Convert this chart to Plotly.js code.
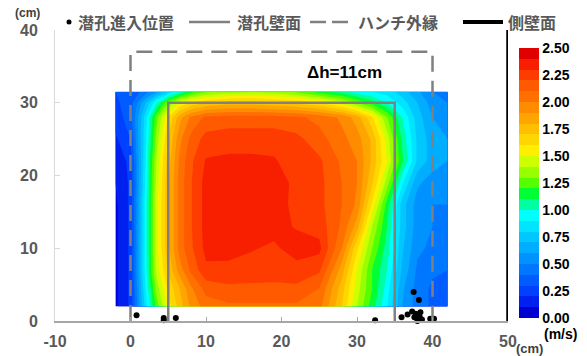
<!DOCTYPE html>
<html>
<head>
<meta charset="utf-8">
<script src="https://cdn.plot.ly/plotly-3.0.1.min.js"></script>
<style>html,body{margin:0;padding:0;background:#fff}#chart{width:587px;height:356px}</style>
</head>
<body>
<div id="chart"></div>
<script>
// grid positions (cm)
const gridX = [-2, 0, 2, 3.5, 5, 6.5, 8, 10, 13, 16, 19, 22, 25, 28, 30, 32, 34, 36, 38, 40, 42];
const gridY = [2, 4.5, 7, 10, 13, 16, 19, 22, 25, 28, 30, 31.5];
// flow speed (m/s), one row per gridY
const speedRows = [
  [0.08,0.22,0.85,1.25,1.55,1.75,1.92,2.05,2.08,2.08,2.08,2.08,2.04,1.70,1.40,1.15,0.90,0.60,0.45,0.38,0.35],
  [0.08,0.22,0.90,1.35,1.62,1.80,1.98,2.14,2.18,2.18,2.18,2.18,2.10,1.75,1.45,1.20,0.95,0.62,0.46,0.38,0.35],
  [0.08,0.22,0.95,1.45,1.72,1.95,2.12,2.28,2.27,2.25,2.24,2.26,2.22,1.85,1.50,1.20,1.00,0.68,0.48,0.42,0.40],
  [0.08,0.22,0.95,1.48,1.78,2.04,2.18,2.33,2.34,2.31,2.28,2.35,2.33,2.00,1.62,1.30,1.05,0.72,0.52,0.48,0.45],
  [0.08,0.22,0.95,1.48,1.78,2.04,2.19,2.34,2.37,2.36,2.34,2.29,2.26,2.08,1.85,1.40,1.10,0.75,0.55,0.50,0.45],
  [0.08,0.22,0.95,1.48,1.78,2.04,2.19,2.34,2.38,2.38,2.35,2.27,2.23,2.10,1.98,1.58,1.15,0.75,0.55,0.50,0.50],
  [0.10,0.22,0.92,1.45,1.78,2.04,2.19,2.34,2.38,2.38,2.36,2.27,2.23,2.10,2.00,1.72,1.35,0.92,0.62,0.55,0.55],
  [0.10,0.24,0.90,1.42,1.75,2.02,2.18,2.31,2.32,2.32,2.31,2.25,2.22,2.08,2.00,1.78,1.50,1.12,0.78,0.65,0.60],
  [0.18,0.30,0.88,1.35,1.70,1.97,2.13,2.24,2.26,2.26,2.26,2.23,2.14,2.03,1.95,1.78,1.45,1.08,0.78,0.65,0.60],
  [0.25,0.35,0.85,1.28,1.60,1.86,2.02,2.12,2.14,2.14,2.14,2.12,2.07,1.98,1.85,1.62,1.30,1.00,0.75,0.60,0.55],
  [0.28,0.35,0.70,1.00,1.30,1.50,1.62,1.70,1.75,1.75,1.72,1.68,1.60,1.45,1.30,1.15,1.00,0.85,0.70,0.55,0.50],
  [0.30,0.32,0.45,0.60,0.80,1.00,1.15,1.28,1.35,1.38,1.35,1.28,1.15,1.05,0.95,0.90,0.85,0.75,0.62,0.50,0.42]
];
// band colours, 0.0-0.1 ... 2.4-2.5
const bandColors = ['#0000d0','#0020f0','#0040ff','#005cff','#0077ff','#0092ff','#00adff','#00c8ff','#00e4ff','#00ffff',
  '#00ffa0','#00ff33','#55ff00','#99ff00','#ccff00','#ffee00','#ffd700','#ffbf00','#ffa500','#ff8c00',
  '#ff7000','#ff5a00','#ff3c00','#f81e00','#e00000'];
// colour-bar ticks
const cbTicks = [0, 0.25, 0.5, 0.75, 1, 1.25, 1.5, 1.75, 2, 2.25, 2.5];
const xTicks = [-10, 0, 10, 20, 30, 40, 50];
const yTicks = [0, 10, 20, 30, 40];
// hole entry positions
const holeX = [0.8, 4.4, 4.4, 6.0, 32.4, 35.9, 36.7, 37.3, 37.8, 38.3, 38.6, 38.0, 37.6, 38.4, 39.7, 40.2, 37.5, 38.2];
const holeY = [0.8, 0.1, 0.4, 0.4, 0.1, 0.5, 0.9, 1.3, 1.0, 0.6, 0.2, 0.0, 0.5, 1.2, 0.3, 0.3, 4.0, 2.9];
// hole wall (solid), haunch outline (dashed), side wall
const wallX = [5, 5, 35, 35];
const wallY = [0, 30, 30, 0];
const haunchX = [0, 0, 40, 40];
const haunchY = [0, 37, 37, 0];
const sideX = [50, 50];
const sideY = [0, 40];
const legendNames = ['潜孔進入位置', '潜孔壁面', 'ハンチ外縁', '側壁面'];

const n = bandColors.length - 1;
const colorscale = bandColors.map((c, i) => [i / n, c]);

const W = 587, H = 356, L = 55, R = 79, T = 30, B = 35;
const pw = W - L - R, ph = H - T - B;
const px = v => (v - L) / pw;
const py = v => (H - B - v) / ph;
const bold = s => '<b>' + s + '</b>';

const tickFont = {family: 'Liberation Sans, Arial, sans-serif', size: 16, color: '#595959', weight: 'bold'};
const legFont = {family: 'Noto Sans CJK JP, sans-serif', size: 16, color: '#595959', weight: 'bold'};

const traces = [
  {
    type: 'contour', x: gridX, y: gridY, z: speedRows,
    colorscale: colorscale, zmin: 0, zmax: 2.5, zauto: false,
    contours: {start: 0.1, end: 2.4, size: 0.1, coloring: 'fill', showlines: false},
    line: {width: 0, smoothing: 0},
    showlegend: false, hoverinfo: 'skip',
    colorbar: {
      x: px(519), xanchor: 'left', xpad: 0, thickness: 20, thicknessmode: 'pixels',
      y: py(183), yanchor: 'middle', ypad: 0, len: 270, lenmode: 'pixels',
      tickmode: 'array', tickvals: cbTicks, ticktext: cbTicks.map(v => bold(v.toFixed(2))), ticks: '',
      tickfont: {family: 'Liberation Sans, Arial, sans-serif', size: 14, color: '#000', weight: 'bold'},
      outlinewidth: 0
    }
  },
  {type: 'scatter', mode: 'markers', x: holeX, y: holeY, name: legendNames[0],
   marker: {color: '#000', size: 6}, cliponaxis: false, showlegend: false},
  {type: 'scatter', mode: 'lines', x: wallX, y: wallY, name: legendNames[1],
   line: {color: '#808080', width: 2.5}, showlegend: false},
  {type: 'scatter', mode: 'lines', x: haunchX, y: haunchY, name: legendNames[2],
   line: {color: '#808080', width: 2.5, dash: '16px,9px'}, showlegend: false},
  {type: 'scatter', mode: 'lines', x: sideX, y: sideY, name: legendNames[3],
   line: {color: '#000', width: 3.5}, cliponaxis: false, showlegend: false}
];

const ly = py(22);
const shapes = [
  {type: 'circle', xref: 'paper', yref: 'paper', x0: px(66.5), x1: px(71.5), y0: py(24.5), y1: py(19.5),
   fillcolor: '#000', line: {width: 0}},
  {type: 'line', xref: 'paper', yref: 'paper', x0: px(189), x1: px(230), y0: ly, y1: ly, line: {color: '#808080', width: 2.5}},
  {type: 'line', xref: 'paper', yref: 'paper', x0: px(310), x1: px(352), y0: ly, y1: ly, line: {color: '#808080', width: 2.5, dash: '16px,6px'}},
  {type: 'line', xref: 'paper', yref: 'paper', x0: px(463), x1: px(503), y0: ly, y1: ly, line: {color: '#000', width: 4}}
];

const ann = (text, x, y, font, xanchor) => ({text, x, y, xref: 'paper', yref: 'paper', showarrow: false,
  xanchor: xanchor || 'center', yanchor: 'middle', font});
const annotations = [
  ann(legendNames[0], px(76), ly, legFont, 'left'),
  ann(legendNames[1], px(235), ly, legFont, 'left'),
  ann(legendNames[2], px(356), ly, legFont, 'left'),
  ann(legendNames[3], px(506), ly, legFont, 'left'),
  ann(bold('(cm)'), px(27), py(13), {family: 'Liberation Sans, Arial, sans-serif', size: 12, color: '#404040'}),
  ann(bold('(cm)'), px(529), py(348), {family: 'Liberation Sans, Arial, sans-serif', size: 13, color: '#404040'}),
  ann(bold('(m/s)'), px(560), py(334), {family: 'Liberation Sans, Arial, sans-serif', size: 14, color: '#000'}),
  {text: bold('Δh=11cm'), x: 28.4, y: 34.1, xref: 'x', yref: 'y', showarrow: false, xanchor: 'center', yanchor: 'middle',
   font: {family: 'Liberation Sans, Arial, sans-serif', size: 17, color: '#000'}}
];

const layout = {
  width: W, height: H,
  margin: {l: L, r: R, t: T, b: B, pad: 0},
  paper_bgcolor: '#fff', plot_bgcolor: '#fff',
  showlegend: false,
  xaxis: {range: [-10, 50], tickmode: 'array', tickvals: xTicks, ticktext: xTicks.map(v => bold(String(v))),
    showgrid: false, zeroline: false,
    showline: true, linecolor: '#a6a6a6', linewidth: 1.5, ticks: 'inside', ticklen: 4, tickcolor: '#a6a6a6',
    tickfont: tickFont, ticklabelstandoff: 5},
  yaxis: {range: [0, 40], tickmode: 'array', tickvals: yTicks, ticktext: yTicks.map(v => bold(String(v))),
    showgrid: false, zeroline: false,
    showline: true, linecolor: '#d9d9d9', linewidth: 1, ticks: 'inside', ticklen: 5, tickcolor: '#d9d9d9',
    tickfont: tickFont, ticklabelstandoff: 13},
  shapes: shapes,
  annotations: annotations
};

Plotly.newPlot('chart', traces, layout, {displayModeBar: false, staticPlot: true});
</script>
</body>
</html>
